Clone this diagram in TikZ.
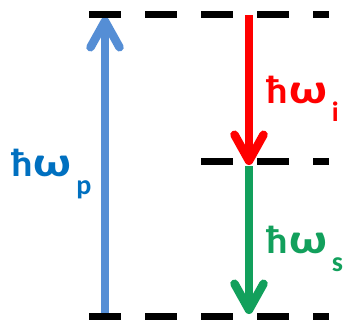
\documentclass[tikz,border=0pt]{standalone}
\usepackage{fontspec}
\setmainfont{Carlito}
\usetikzlibrary{arrows.meta}
\definecolor{pumpblue}{RGB}{85,142,213}
\definecolor{labelblue}{RGB}{0,112,192}
\definecolor{idred}{RGB}{255,0,0}
\definecolor{sgreen}{RGB}{18,160,92}
\tikzset{
  level/.style={line width=7pt, dash pattern=on 32pt off 24pt, black},
  photon/.style={line width=8.5pt, -{Straight Barb[length=26pt,width=29pt,line cap=round,line join=round]}},
  lbl/.style={font=\bfseries\fontsize{39}{42}\selectfont, inner sep=0pt, anchor=base west}
}
\newcommand{\wideomega}{\kern1pt\scalebox{1.35}[1.08]{ω}}
\newcommand{\subtext}[1]{\kern5pt\raisebox{-18pt}{\fontsize{28}{28}\selectfont #1}}
\begin{document}
\begin{tikzpicture}[x=1pt,y=-1pt]
\useasboundingbox (0,0) rectangle (345,325);
% arrows
\coordinate (pB) at (105,316);
\coordinate (pT) at (105,17);
\coordinate (iT) at (249,15);
\coordinate (iB) at (249,165);
\coordinate (sT) at (249,166);
\coordinate (sB) at (249,314);
\draw[photon, pumpblue] (pB) -- (pT);
\draw[photon, idred] (iT) -- (iB);
\draw[photon, sgreen] (sT) -- (sB);
% levels
\coordinate (L1a) at (89,14.5);  \coordinate (L1b) at (329,14.5);
\coordinate (L2a) at (201,161.5); \coordinate (L2b) at (329,161.5);
\coordinate (L3a) at (89,316);   \coordinate (L3b) at (329,316);
\draw[level] (L1a) -- (L1b);
\draw[level] (L2a) -- (L2b);
\draw[level] (L3a) -- (L3b);
% labels
\node[lbl, text=labelblue] (lp) at (11,176) {ħ\wideomega\subtext{p}};
\node[lbl, text=idred] (li) at (266.5,103) {ħ\wideomega\subtext{i}};
\node[lbl, text=sgreen] (ls) at (266.5,253) {ħ\wideomega\subtext{s}};
\end{tikzpicture}
\end{document}
